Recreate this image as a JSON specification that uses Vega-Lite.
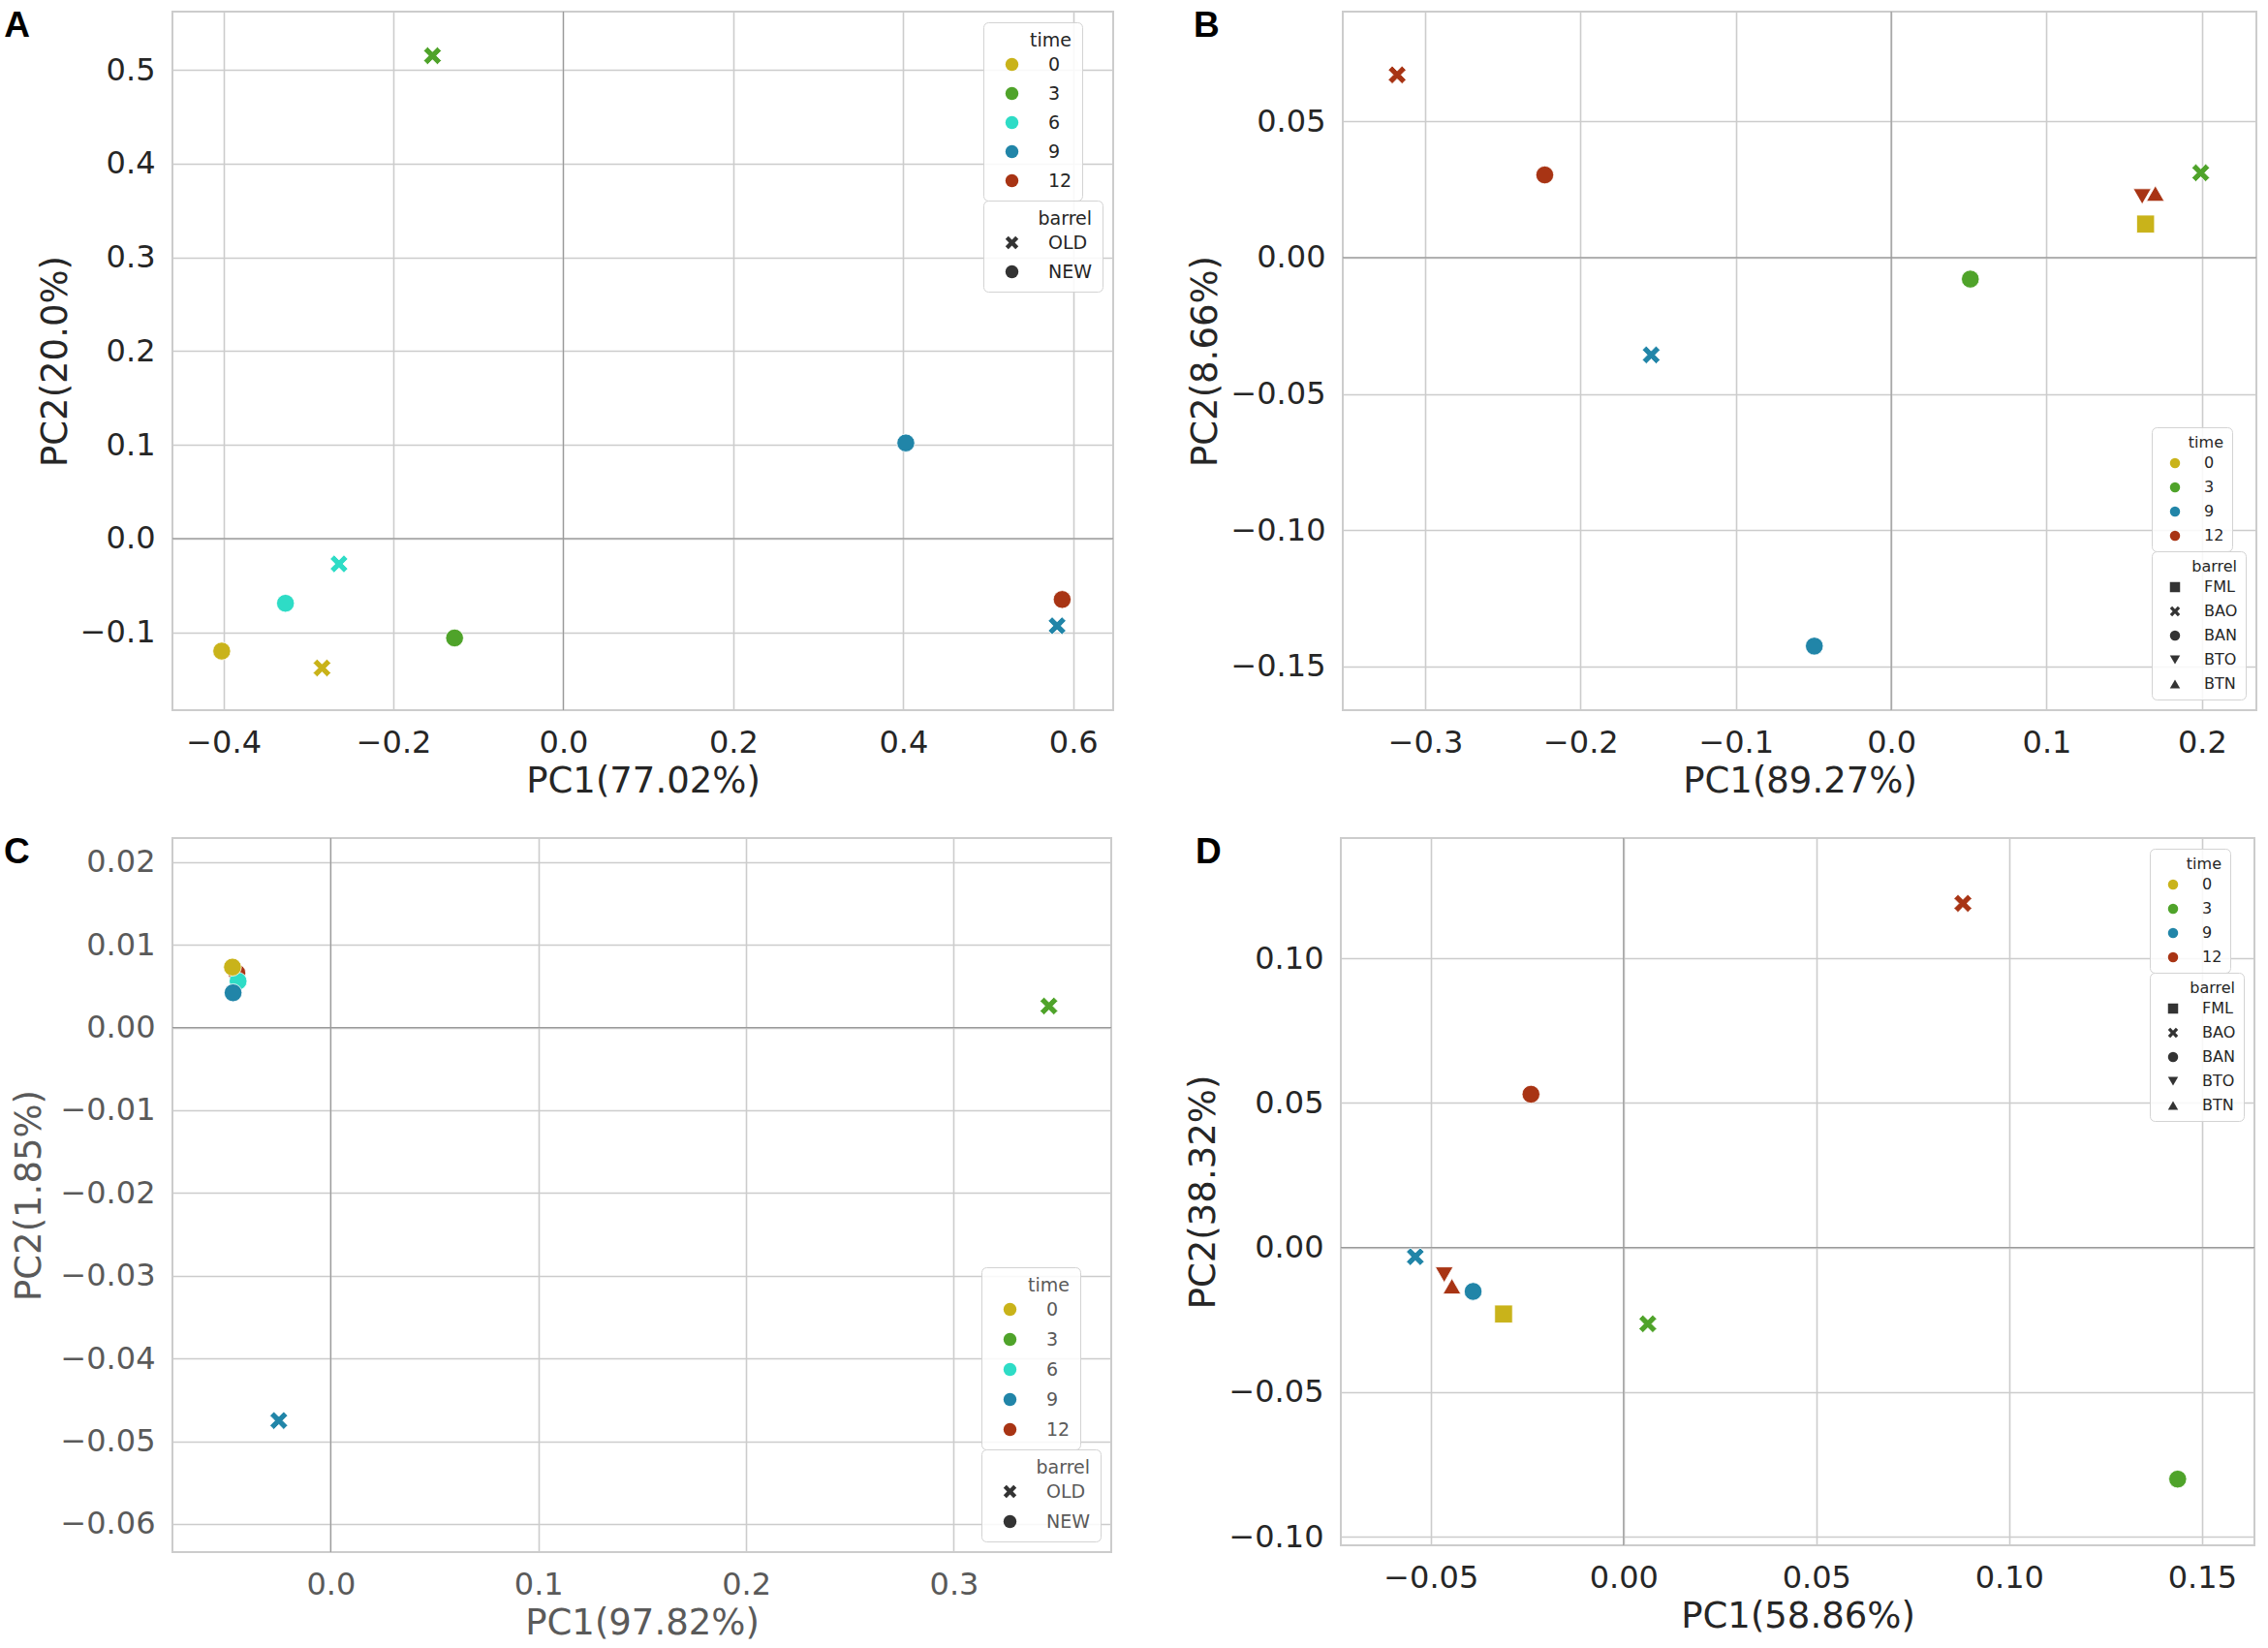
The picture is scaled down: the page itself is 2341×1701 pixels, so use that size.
{
  "$schema": "https://vega.github.io/schema/vega-lite/v6.json",
  "background": "white",
  "padding": {"left": 2, "top": 7, "right": 0, "bottom": 0},
  "datasets": {
    "A": [
      {"time": "0", "barrel": "NEW", "pc1": -0.402, "pc2": -0.120},
      {"time": "0", "barrel": "OLD", "pc1": -0.284, "pc2": -0.138},
      {"time": "3", "barrel": "NEW", "pc1": -0.128, "pc2": -0.106},
      {"time": "3", "barrel": "OLD", "pc1": -0.154, "pc2": 0.515},
      {"time": "6", "barrel": "NEW", "pc1": -0.327, "pc2": -0.069},
      {"time": "6", "barrel": "OLD", "pc1": -0.264, "pc2": -0.027},
      {"time": "9", "barrel": "NEW", "pc1": 0.403, "pc2": 0.102},
      {"time": "9", "barrel": "OLD", "pc1": 0.581, "pc2": -0.093},
      {"time": "12", "barrel": "NEW", "pc1": 0.587, "pc2": -0.065}
    ],
    "B": [
      {"time": "12", "barrel": "BAO", "pc1": -0.318, "pc2": 0.067},
      {"time": "12", "barrel": "BAN", "pc1": -0.223, "pc2": 0.0303},
      {"time": "9", "barrel": "BAO", "pc1": -0.1545, "pc2": -0.0357},
      {"time": "9", "barrel": "BAN", "pc1": -0.0495, "pc2": -0.1425},
      {"time": "3", "barrel": "BAN", "pc1": 0.0509, "pc2": -0.0079},
      {"time": "3", "barrel": "BAO", "pc1": 0.1992, "pc2": 0.0311},
      {"time": "0", "barrel": "FML", "pc1": 0.1637, "pc2": 0.0123},
      {"time": "12", "barrel": "BTO", "pc1": 0.1615, "pc2": 0.0224},
      {"time": "12", "barrel": "BTN", "pc1": 0.1700, "pc2": 0.0235}
    ],
    "C": [
      {"time": "12", "barrel": "NEW", "pc1": -0.0452, "pc2": 0.0066},
      {"time": "6", "barrel": "NEW", "pc1": -0.0446, "pc2": 0.0056},
      {"time": "0", "barrel": "NEW", "pc1": -0.0473, "pc2": 0.0073},
      {"time": "9", "barrel": "NEW", "pc1": -0.0470, "pc2": 0.0042},
      {"time": "3", "barrel": "OLD", "pc1": 0.3458, "pc2": 0.0026},
      {"time": "9", "barrel": "OLD", "pc1": -0.0250, "pc2": -0.0475}
    ],
    "D": [
      {"time": "12", "barrel": "BAO", "pc1": 0.088, "pc2": 0.119},
      {"time": "12", "barrel": "BAN", "pc1": -0.024, "pc2": 0.053},
      {"time": "9", "barrel": "BAO", "pc1": -0.0540, "pc2": -0.0032},
      {"time": "12", "barrel": "BTO", "pc1": -0.0465, "pc2": -0.0094},
      {"time": "12", "barrel": "BTN", "pc1": -0.0445, "pc2": -0.0134},
      {"time": "9", "barrel": "BAN", "pc1": -0.0390, "pc2": -0.0152},
      {"time": "0", "barrel": "FML", "pc1": -0.0311, "pc2": -0.0230},
      {"time": "3", "barrel": "BAO", "pc1": 0.0063, "pc2": -0.0264},
      {"time": "3", "barrel": "BAN", "pc1": 0.1437, "pc2": -0.0801}
    ]
  },
  "vconcat": [
    {
      "hconcat": [
        {
          "title": {"text": "A", "offset": -64, "dx": -34, "baseline": "alphabetic"},
          "width": 971,
          "height": 721,
          "layer": [
            {
              "data": {"values": [{"z": 0}]},
              "mark": {"type": "rule", "color": "#9a9a9a", "strokeWidth": 1.2},
              "encoding": {"x": {"field": "z", "type": "quantitative", "title": "PC1(77.02%)"}}
            },
            {
              "data": {"values": [{"z": 0}]},
              "mark": {"type": "rule", "color": "#9a9a9a", "strokeWidth": 1.2},
              "encoding": {"y": {"field": "z", "type": "quantitative", "title": "PC2(20.0%)"}}
            },
            {
              "data": {"name": "A"},
              "mark": {"type": "point", "filled": true, "size": 340, "stroke": "white", "strokeWidth": 0.8, "opacity": 1},
              "encoding": {
                "x": {"field": "pc1", "type": "quantitative", "title": "PC1(77.02%)",
                  "scale": {"domain": [-0.46, 0.647], "nice": false, "zero": false},
                  "axis": {"values": [-0.4, -0.2, 0, 0.2, 0.4, 0.6], "format": ".1f"}},
                "y": {"field": "pc2", "type": "quantitative", "title": "PC2(20.0%)",
                  "scale": {"domain": [-0.183, 0.562], "nice": false, "zero": false},
                  "axis": {"values": [-0.1, 0, 0.1, 0.2, 0.3, 0.4, 0.5], "format": ".1f"}},
                "color": {"field": "time", "type": "nominal",
                  "scale": {"domain": ["0", "3", "6", "9", "12"], "range": ["#c9b31a", "#4fa32a", "#2edcc6", "#2185a8", "#a83414"]},
                  "legend": {"title": "time", "orient": "top-right", "offset": 11, "labelFontSize": 19, "titleFontSize": 19, "symbolSize": 180, "rowPadding": 10, "labelOffset": 28, "symbolOffset": 10, "padding": 10}},
                "shape": {"field": "barrel", "type": "nominal",
                  "scale": {"domain": ["OLD", "NEW"], "range": ["M-0.55,-1L0,-0.45L0.55,-1L1,-0.55L0.45,0L1,0.55L0.55,1L0,0.45L-0.55,1L-1,0.55L-0.45,0L-1,-0.55Z", "circle"]},
                  "legend": {"title": "barrel", "orient": "top-right", "offset": 11, "labelFontSize": 19, "titleFontSize": 19, "symbolSize": 180, "rowPadding": 10, "labelOffset": 28, "symbolOffset": 10, "padding": 10, "symbolFillColor": "#333333"}}
              }
            }
          ]
        },
        {
          "title": {"text": "B", "offset": -64, "dx": 6, "baseline": "alphabetic"},
          "width": 943,
          "height": 721,
          "layer": [
            {
              "data": {"values": [{"z": 0}]},
              "mark": {"type": "rule", "color": "#9a9a9a", "strokeWidth": 1.2},
              "encoding": {"x": {"field": "z", "type": "quantitative", "title": "PC1(89.27%)"}}
            },
            {
              "data": {"values": [{"z": 0}]},
              "mark": {"type": "rule", "color": "#9a9a9a", "strokeWidth": 1.2},
              "encoding": {"y": {"field": "z", "type": "quantitative", "title": "PC2(8.66%)"}}
            },
            {
              "data": {"name": "B"},
              "mark": {"type": "point", "filled": true, "size": 340, "stroke": "white", "strokeWidth": 0.8, "opacity": 1},
              "encoding": {
                "x": {"field": "pc1", "type": "quantitative", "title": "PC1(89.27%)",
                  "scale": {"domain": [-0.353, 0.235], "nice": false, "zero": false},
                  "axis": {"values": [-0.3, -0.2, -0.1, 0, 0.1, 0.2], "format": ".1f"}},
                "y": {"field": "pc2", "type": "quantitative", "title": "PC2(8.66%)",
                  "scale": {"domain": [-0.166, 0.0902], "nice": false, "zero": false},
                  "axis": {"values": [-0.15, -0.1, -0.05, 0, 0.05], "format": ".2f"}},
                "color": {"field": "time", "type": "nominal",
                  "scale": {"domain": ["0", "3", "9", "12"], "range": ["#c9b31a", "#4fa32a", "#2185a8", "#a83414"]},
                  "legend": {"title": "time", "orient": "bottom-right", "offset": 11, "labelFontSize": 16, "titleFontSize": 16, "symbolSize": 110, "rowPadding": 9, "labelOffset": 22, "symbolOffset": 8, "padding": 8}},
                "shape": {"field": "barrel", "type": "nominal",
                  "scale": {"domain": ["FML", "BAO", "BAN", "BTO", "BTN"], "range": ["square", "M-0.55,-1L0,-0.45L0.55,-1L1,-0.55L0.45,0L1,0.55L0.55,1L0,0.45L-0.55,1L-1,0.55L-0.45,0L-1,-0.55Z", "circle", "triangle-down", "triangle-up"]},
                  "legend": {"title": "barrel", "orient": "bottom-right", "offset": 11, "labelFontSize": 16, "titleFontSize": 16, "symbolSize": 110, "rowPadding": 9, "labelOffset": 22, "symbolOffset": 8, "padding": 8, "symbolFillColor": "#333333"}}
              }
            }
          ]
        }
      ],
      "spacing": 73,
      "resolve": {"scale": {"color": "independent", "shape": "independent"}, "legend": {"color": "independent", "shape": "independent"}}
    },
    {
      "hconcat": [
        {
          "title": {"text": "C", "offset": -64, "dx": -8, "baseline": "alphabetic"},
          "width": 969,
          "height": 737,
          "layer": [
            {
              "data": {"values": [{"z": 0}]},
              "mark": {"type": "rule", "color": "#9a9a9a", "strokeWidth": 1.2},
              "encoding": {"x": {"field": "z", "type": "quantitative", "title": "PC1(97.82%)"}}
            },
            {
              "data": {"values": [{"z": 0}]},
              "mark": {"type": "rule", "color": "#9a9a9a", "strokeWidth": 1.2},
              "encoding": {"y": {"field": "z", "type": "quantitative", "title": "PC2(1.85%)"}}
            },
            {
              "data": {"name": "C"},
              "mark": {"type": "point", "filled": true, "size": 340, "stroke": "white", "strokeWidth": 0.8, "opacity": 1},
              "encoding": {
                "x": {"field": "pc1", "type": "quantitative", "title": "PC1(97.82%)",
                  "scale": {"domain": [-0.0762, 0.3758], "nice": false, "zero": false},
                  "axis": {"values": [0, 0.1, 0.2, 0.3], "format": ".1f", "labelColor": "#5a5a5a", "titleColor": "#5a5a5a"}},
                "y": {"field": "pc2", "type": "quantitative", "title": "PC2(1.85%)",
                  "scale": {"domain": [-0.0634, 0.0229], "nice": false, "zero": false},
                  "axis": {"values": [-0.06, -0.05, -0.04, -0.03, -0.02, -0.01, 0, 0.01, 0.02], "format": ".2f", "labelColor": "#5a5a5a", "titleColor": "#5a5a5a", "titlePadding": 12}},
                "color": {"field": "time", "type": "nominal",
                  "scale": {"domain": ["0", "3", "6", "9", "12"], "range": ["#c9b31a", "#4fa32a", "#2edcc6", "#2185a8", "#a83414"]},
                  "legend": {"title": "time", "orient": "bottom-right", "offset": 11, "labelFontSize": 19, "titleFontSize": 19, "symbolSize": 180, "rowPadding": 11, "labelOffset": 28, "symbolOffset": 10, "padding": 10, "labelColor": "#5a5a5a", "titleColor": "#5a5a5a"}},
                "shape": {"field": "barrel", "type": "nominal",
                  "scale": {"domain": ["OLD", "NEW"], "range": ["M-0.55,-1L0,-0.45L0.55,-1L1,-0.55L0.45,0L1,0.55L0.55,1L0,0.45L-0.55,1L-1,0.55L-0.45,0L-1,-0.55Z", "circle"]},
                  "legend": {"title": "barrel", "orient": "bottom-right", "offset": 11, "labelFontSize": 19, "titleFontSize": 19, "symbolSize": 180, "rowPadding": 11, "labelOffset": 28, "symbolOffset": 10, "padding": 10, "symbolFillColor": "#333333", "labelColor": "#5a5a5a", "titleColor": "#5a5a5a"}}
              }
            }
          ]
        },
        {
          "title": {"text": "D", "offset": -64, "dx": 10, "baseline": "alphabetic"},
          "width": 943,
          "height": 730,
          "layer": [
            {
              "data": {"values": [{"z": 0}]},
              "mark": {"type": "rule", "color": "#9a9a9a", "strokeWidth": 1.2},
              "encoding": {"x": {"field": "z", "type": "quantitative", "title": "PC1(58.86%)"}}
            },
            {
              "data": {"values": [{"z": 0}]},
              "mark": {"type": "rule", "color": "#9a9a9a", "strokeWidth": 1.2},
              "encoding": {"y": {"field": "z", "type": "quantitative", "title": "PC2(38.32%)"}}
            },
            {
              "data": {"name": "D"},
              "mark": {"type": "point", "filled": true, "size": 340, "stroke": "white", "strokeWidth": 0.8, "opacity": 1},
              "encoding": {
                "x": {"field": "pc1", "type": "quantitative", "title": "PC1(58.86%)",
                  "scale": {"domain": [-0.0733, 0.1636], "nice": false, "zero": false},
                  "axis": {"values": [-0.05, 0, 0.05, 0.1, 0.15], "format": ".2f"}},
                "y": {"field": "pc2", "type": "quantitative", "title": "PC2(38.32%)",
                  "scale": {"domain": [-0.103, 0.1416], "nice": false, "zero": false},
                  "axis": {"values": [-0.1, -0.05, 0, 0.05, 0.1], "format": ".2f"}},
                "color": {"field": "time", "type": "nominal",
                  "scale": {"domain": ["0", "3", "9", "12"], "range": ["#c9b31a", "#4fa32a", "#2185a8", "#a83414"]},
                  "legend": {"title": "time", "orient": "top-right", "offset": 11, "labelFontSize": 16, "titleFontSize": 16, "symbolSize": 110, "rowPadding": 9, "labelOffset": 22, "symbolOffset": 8, "padding": 8}},
                "shape": {"field": "barrel", "type": "nominal",
                  "scale": {"domain": ["FML", "BAO", "BAN", "BTO", "BTN"], "range": ["square", "M-0.55,-1L0,-0.45L0.55,-1L1,-0.55L0.45,0L1,0.55L0.55,1L0,0.45L-0.55,1L-1,0.55L-0.45,0L-1,-0.55Z", "circle", "triangle-down", "triangle-up"]},
                  "legend": {"title": "barrel", "orient": "top-right", "offset": 11, "labelFontSize": 16, "titleFontSize": 16, "symbolSize": 110, "rowPadding": 9, "labelOffset": 22, "symbolOffset": 8, "padding": 8, "symbolFillColor": "#333333"}}
              }
            }
          ]
        }
      ],
      "spacing": 73,
      "resolve": {"scale": {"color": "independent", "shape": "independent"}, "legend": {"color": "independent", "shape": "independent"}}
    }
  ],
  "spacing": 35,
  "resolve": {"scale": {"color": "independent", "shape": "independent"}, "legend": {"color": "independent", "shape": "independent"}},
  "config": {
    "font": "DejaVu Sans",
    "view": {"stroke": "#cccccc", "strokeWidth": 2},
    "axis": {
      "grid": true, "gridColor": "#cccccc", "gridWidth": 1.6, "domain": false, "ticks": false,
      "labelFont": "DejaVu Sans", "labelFontSize": 32, "labelColor": "#262626", "labelPadding": 18,
      "labelFlush": false, "labelOverlap": false,
      "titleFont": "DejaVu Sans", "titleFontSize": 37, "titleFontWeight": "normal", "titleColor": "#262626", "titlePadding": 6
    },
    "legend": {
      "fillColor": "rgba(255,255,255,0.85)", "strokeColor": "#d3d3d3", "cornerRadius": 5,
      "labelFont": "DejaVu Sans", "titleFont": "DejaVu Sans", "titleFontWeight": "normal",
      "labelColor": "#262626", "titleColor": "#262626", "symbolStrokeWidth": 0, "titleAnchor": "end",
      "layout": {
        "top-right": {"direction": "vertical", "margin": 0},
        "bottom-right": {"direction": "vertical", "margin": 0}
      }
    },
    "title": {"font": "Liberation Sans", "fontSize": 37, "fontWeight": "bold", "color": "black", "anchor": "start", "frame": "bounds"}
  }
}
